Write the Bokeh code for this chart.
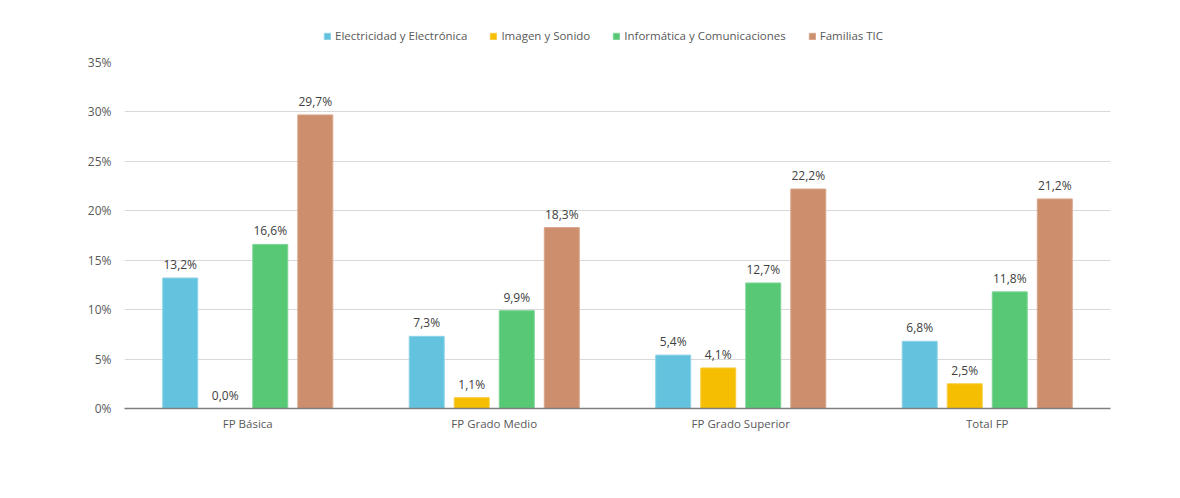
from bokeh.plotting import figure
from bokeh.layouts import column
from bokeh.models import (ColumnDataSource, FactorRange, Range1d, FixedTicker,
                          NumeralTickFormatter, Legend, LegendItem)
from bokeh.transform import dodge
from bokeh.core.properties import value
from bokeh.embed import file_html
from bokeh.resources import INLINE

categories = ["FP Básica", "FP Grado Medio", "FP Grado Superior", "Total FP"]
series_names = ["Electricidad y Electrónica", "Imagen y Sonido",
                "Informática y Comunicaciones", "Familias TIC"]
electricidad = [0.132, 0.073, 0.054, 0.068]
imagen = [0.000, 0.011, 0.041, 0.025]
informatica = [0.166, 0.099, 0.127, 0.118]
familias = [0.297, 0.183, 0.222, 0.212]
y_ticks = [0, 0.05, 0.10, 0.15, 0.20, 0.25, 0.30, 0.35]

colors = ["#63C3DE", "#F6BE00", "#57C975", "#CC8E6D"]
outlines = ["#8fd3e8", "#f8cd40", "#7fd497", "#d9a88c"]
offsets = [-0.274, -0.0913, 0.0913, 0.274]
FONT = "Open Sans"

def fmt(v):
    return ("%.1f%%" % (v * 100)).replace(".", ",")

data = {"cat": categories}
series = [electricidad, imagen, informatica, familias]
for i, s in enumerate(series):
    data["s%d" % i] = s
    data["l%d" % i] = [fmt(v) for v in s]
source = ColumnDataSource(data)

# ---- legend strip (its frame is aligned with the chart's frame) ----
lg = figure(x_range=Range1d(0, 1), y_range=Range1d(0, 1), width=1164, height=52,
            output_backend="svg", toolbar_location=None, min_border=0)
lg.axis.visible = False
lg.grid.visible = False
lg.outline_line_color = None
lg.border_fill_color = "white"
items = []
nan = float("nan")
for i in range(4):
    # swatch renderers with non-finite heights draw nothing; only the legend shows
    r = lg.vbar(x=[0.5], top=[nan], bottom=[nan], width=0.1,
                fill_color=colors[i], line_color=outlines[i])
    items.append(LegendItem(label=series_names[i], renderers=[r]))
legend = Legend(items=items, orientation="horizontal", location=(199, 9),
                glyph_width=8, glyph_height=8, label_standoff=4, spacing=22,
                label_text_font=FONT, label_text_font_size="11.5px",
                label_text_color="#595959", border_line_color=None,
                background_fill_alpha=0, padding=0, margin=0)
lg.add_layout(legend, "center")

# ---- main chart ----
p = figure(x_range=FactorRange(*categories), y_range=Range1d(0, 0.35),
           width=1164, height=430, output_backend="svg", toolbar_location=None,
           min_border_left=124, min_border_right=54, min_border_top=10,
           min_border_bottom=74)
p.outline_line_color = None
p.background_fill_color = "white"
p.border_fill_color = "white"

for i in range(4):
    p.vbar(x=dodge("cat", offsets[i], range=p.x_range), top="s%d" % i,
           width=0.142, source=source, fill_color=colors[i],
           line_color=outlines[i], line_width=1)
    p.text(x=dodge("cat", offsets[i], range=p.x_range), y="s%d" % i,
           text="l%d" % i, source=source, text_align="center",
           text_baseline="bottom", y_offset=-5, text_font=value(FONT),
           text_font_size="12px", text_color="#404040")

p.yaxis.ticker = FixedTicker(ticks=y_ticks)
p.yaxis.formatter = NumeralTickFormatter(format="0%")
p.yaxis.axis_line_color = None
p.yaxis.major_tick_line_color = None
p.yaxis.minor_tick_line_color = None
p.yaxis.major_label_text_font = FONT
p.yaxis.major_label_text_font_size = "12px"
p.yaxis.major_label_text_color = "#595959"
p.yaxis.major_label_standoff = 7

p.xaxis.axis_line_color = "#7f7f7f"
p.xaxis.axis_line_width = 1.5
p.xaxis.major_tick_line_color = None
p.xaxis.minor_tick_line_color = None
p.xaxis.major_label_text_font = FONT
p.xaxis.major_label_text_font_size = "11.5px"
p.xaxis.major_label_text_color = "#595959"
p.xaxis.major_label_standoff = 1

p.xgrid.grid_line_color = None
p.ygrid.grid_line_color = "#d9d9d9"
p.ygrid.ticker = FixedTicker(ticks=y_ticks)

layout = column(lg, p, spacing=0)
open("out.html", "w").write(file_html(layout, INLINE))
